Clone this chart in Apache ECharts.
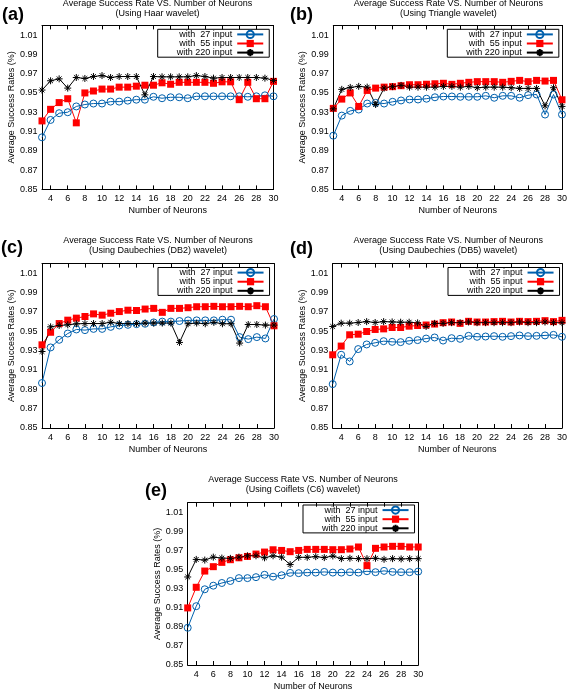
<!DOCTYPE html>
<html><head><meta charset="utf-8">
<script src="https://cdn.jsdelivr.net/npm/echarts@6/dist/echarts.min.js"></script>
<style>html,body{margin:0;padding:0;background:#fff}#c{width:570px;height:692px}</style>
</head><body><div id="c"></div>
<script>
// ---------- data ----------
const neurons = ['3','4','5','6','7','8','9','10','11','12','13','14','15','16','17','18','19','20','21','22','23','24','25','26','27','28','29','30'];
const yTickLabels = ['0.85','0.87','0.89','0.91','0.93','0.95','0.97','0.99','1.01'];
const seriesNames = ['with  27 input', 'with  55 input', 'with 220 input'];
const panelLetters = ['(a)', '(b)', '(c)', '(d)', '(e)'];
const titleLine1 = 'Average Success Rate VS. Number of Neurons';
const titleLine2 = ['(Using Haar wavelet)', '(Using Triangle wavelet)', '(Using Daubechies (DB2) wavelet)', '(Using Daubechies (DB5) wavelet)', '(Using Coiflets (C6) wavelet)'];
const xAxisName = 'Number of Neurons';
const yAxisName = 'Average Success Rates (%)';

const haar27  = [0.904,0.922,0.929,0.930,0.936,0.938,0.939,0.939,0.941,0.941,0.942,0.943,0.943,0.946,0.9445,0.9455,0.9455,0.9445,0.9465,0.9465,0.9465,0.9465,0.9465,0.9465,0.946,0.9465,0.9475,0.9465];
const haar55  = [0.921,0.933,0.940,0.944,0.919,0.950,0.952,0.954,0.954,0.956,0.956,0.957,0.958,0.958,0.9605,0.959,0.961,0.961,0.961,0.961,0.960,0.9615,0.9615,0.943,0.961,0.944,0.944,0.962];
const haar220 = [0.953,0.9626,0.9646,0.955,0.966,0.965,0.967,0.968,0.966,0.967,0.967,0.967,0.948,0.967,0.9667,0.9667,0.9667,0.9667,0.968,0.967,0.9653,0.966,0.966,0.966,0.966,0.966,0.9653,0.963];

const tri27  = [0.9057,0.9265,0.9314,0.9328,0.939,0.9397,0.939,0.9408,0.9422,0.9432,0.9432,0.944,0.9455,0.9463,0.9463,0.946,0.946,0.946,0.947,0.945,0.947,0.947,0.945,0.9477,0.9484,0.9276,0.9484,0.9276];
const tri55  = [0.934,0.9436,0.950,0.936,0.9526,0.955,0.956,0.9565,0.9575,0.9585,0.9585,0.959,0.9595,0.960,0.9589,0.960,0.961,0.9617,0.9617,0.9617,0.961,0.962,0.963,0.9617,0.963,0.9623,0.963,0.9429];
const tri220 = [0.9335,0.9537,0.9557,0.9568,0.956,0.938,0.955,0.9565,0.9578,0.956,0.956,0.956,0.956,0.9568,0.9568,0.956,0.9568,0.9554,0.956,0.956,0.956,0.9554,0.9547,0.9547,0.9547,0.9366,0.9554,0.936];

const db2_27  = [0.8965,0.9333,0.9412,0.9477,0.9519,0.9512,0.9525,0.9525,0.9546,0.956,0.9567,0.9574,0.9578,0.9592,0.960,0.960,0.9606,0.9613,0.9613,0.9613,0.9613,0.962,0.962,0.944,0.9419,0.944,0.9426,0.9627];
const db2_55  = [0.936,0.949,0.958,0.9615,0.9636,0.9653,0.968,0.9667,0.9687,0.9704,0.9718,0.9715,0.973,0.9737,0.9696,0.9737,0.9737,0.9744,0.9754,0.9754,0.9758,0.9754,0.9754,0.9758,0.9754,0.9765,0.9754,0.9557];
const db2_220 = [0.9291,0.9546,0.956,0.9567,0.9577,0.958,0.958,0.958,0.9594,0.958,0.958,0.958,0.9585,0.9585,0.9585,0.9585,0.9385,0.9578,0.9585,0.9578,0.9592,0.9578,0.9578,0.9378,0.957,0.957,0.9564,0.9564];

const db5_27  = [0.8954,0.9257,0.9188,0.9316,0.9364,0.9381,0.9398,0.9391,0.9388,0.9402,0.9409,0.9425,0.9436,0.9404,0.9429,0.9422,0.9453,0.9443,0.9446,0.945,0.9443,0.945,0.9457,0.945,0.9453,0.9457,0.9463,0.9443];
const db5_55  = [0.9257,0.9347,0.9464,0.947,0.9498,0.9519,0.9525,0.9539,0.9539,0.9553,0.956,0.9565,0.9575,0.9589,0.9596,0.9582,0.9603,0.9596,0.9596,0.96,0.9603,0.9596,0.9603,0.96,0.9603,0.961,0.96,0.9613];
const db5_220 = [0.955,0.9584,0.9584,0.9591,0.96,0.9591,0.96,0.9597,0.9594,0.9594,0.9587,0.955,0.9582,0.9582,0.9589,0.9589,0.9596,0.9589,0.9589,0.9589,0.9589,0.9589,0.9596,0.9589,0.9589,0.9596,0.9589,0.9589];

const coif27  = [0.889,0.9116,0.9293,0.9331,0.9359,0.938,0.941,0.941,0.942,0.9445,0.9425,0.944,0.9465,0.9462,0.9468,0.9468,0.9475,0.9468,0.9468,0.9472,0.9468,0.9482,0.9472,0.9486,0.9475,0.9472,0.9472,0.9479];
const coif55  = [0.9098,0.9314,0.9484,0.953,0.9575,0.9603,0.9623,0.9637,0.9662,0.9683,0.9707,0.970,0.9687,0.970,0.9711,0.9711,0.9711,0.9708,0.9708,0.9715,0.9736,0.9541,0.9722,0.9736,0.9743,0.9743,0.9736,0.9736];
const coif220 = [0.9422,0.9606,0.9599,0.963,0.962,0.9617,0.963,0.9644,0.9644,0.9623,0.9644,0.963,0.9552,0.9628,0.9628,0.9635,0.9625,0.9642,0.9614,0.9618,0.9614,0.9614,0.9618,0.9607,0.9614,0.9611,0.9614,0.9614];

const panelData = [
  [haar27, haar55, haar220],
  [tri27, tri55, tri220],
  [db2_27, db2_55, db2_220],
  [db5_27, db5_55, db5_220],
  [coif27, coif55, coif220]
];

// ---------- layout / style ----------
const FONT = '"Liberation Sans", Arial, Helvetica, sans-serif';
const Y_MIN = 0.85, Y_MAX = 1.02, Y_STEP = 0.02;
const layout = [
  {left: 42,    top: 25.4,  width: 231.5, height: 164,   letter: [2, 15.5],   title: [157.5, 3.5], legend: [157.7, 29.3]},
  {left: 333.3, top: 25.4,  width: 230.2, height: 164,   letter: [290, 15.5], title: [448.4, 3.5], legend: [447.3, 29.3]},
  {left: 42,    top: 263.6, width: 232,   height: 164.4, letter: [1, 248],    title: [158, 240.8], legend: [158, 267.5]},
  {left: 332.7, top: 263.6, width: 231.3, height: 164.4, letter: [290, 249],  title: [448.3, 240.8], legend: [448, 267.5]},
  {left: 187.7, top: 502.7, width: 230.5, height: 163.3, letter: [145, 491.5], title: [303, 479.8], legend: [303, 505]}
];
const colors = ['#0060ad', '#ff0000', '#000000'];
const starPath = 'path://M0,5L10,5M5,0L5,10M1.6,1.6L8.4,8.4M8.4,1.6L1.6,8.4';

const grids = [], xAxes = [], yAxes = [], series = [], legends = [], graphics = [];
const evenOnly = (idx, val) => Number(val) % 2 === 0;

layout.forEach((L, i) => {
  grids.push({left: L.left, top: L.top, width: L.width, height: L.height, containLabel: false});
  const lineAxis = {show: true, lineStyle: {color: '#000', width: 1}};
  xAxes.push({
    type: 'category', gridIndex: i, data: neurons, boundaryGap: false, position: 'bottom',
    axisLine: lineAxis,
    axisTick: {inside: true, length: 4, interval: evenOnly, lineStyle: {color: '#000'}},
    axisLabel: {interval: evenOnly, margin: 5, fontSize: 9, fontFamily: FONT, color: '#000'},
    splitLine: {show: false},
    name: xAxisName, nameLocation: 'middle', nameGap: 17,
    nameTextStyle: {fontSize: 9, fontFamily: FONT, color: '#000', padding: [0, 0, 0, 20]}
  });
  xAxes.push({
    type: 'category', gridIndex: i, data: neurons, boundaryGap: false, position: 'top',
    axisLine: lineAxis,
    axisTick: {inside: true, length: 4, interval: evenOnly, lineStyle: {color: '#000'}},
    axisLabel: {show: false}, splitLine: {show: false}
  });
  yAxes.push({
    type: 'value', gridIndex: i, min: Y_MIN, max: Y_MAX, interval: Y_STEP, position: 'left',
    axisLine: lineAxis,
    axisTick: {inside: true, length: 4, lineStyle: {color: '#000'}},
    axisLabel: {margin: 4.5, fontSize: 9, fontFamily: FONT, color: '#000',
      formatter: v => { const s = v.toFixed(2); return yTickLabels.indexOf(s) >= 0 ? s : ''; }},
    splitLine: {show: false},
    name: yAxisName, nameLocation: 'middle', nameGap: 26,
    nameTextStyle: {fontSize: 9, fontFamily: FONT, color: '#000'}
  });
  yAxes.push({
    type: 'value', gridIndex: i, min: Y_MIN, max: Y_MAX, interval: Y_STEP, position: 'right',
    axisLine: lineAxis,
    axisTick: {inside: true, length: 4, lineStyle: {color: '#000'}},
    axisLabel: {show: false}, splitLine: {show: false}
  });

  const styles = [
    {symbol: 'circle', symbolSize: 7, itemStyle: {color: 'rgba(0,0,0,0)', borderColor: colors[0], borderWidth: 1}},
    {symbol: 'rect', symbolSize: 7, itemStyle: {color: colors[1], borderColor: colors[1], borderWidth: 0}},
    {symbol: starPath, symbolSize: 7, itemStyle: {color: 'rgba(0,0,0,0)', borderColor: colors[2], borderWidth: 1}}
  ];
  panelData[i].forEach((arr, k) => {
    series.push(Object.assign({
      type: 'line', name: seriesNames[k], xAxisIndex: 2 * i, yAxisIndex: 2 * i,
      data: arr, clip: false, showAllSymbol: true,
      lineStyle: {color: colors[k], width: 1},
      emphasis: {disabled: true}
    }, styles[k]));
  });

  legends.push({
    orient: 'vertical', align: 'right', left: L.legend[0], top: L.legend[1],
    itemWidth: 26, itemHeight: 9, itemGap: 0,
    padding: [0.5, 5, 0, 19], borderColor: '#000', borderWidth: 1,
    selectedMode: false, data: seriesNames,
    textStyle: {fontSize: 9, fontFamily: FONT, color: '#000', lineHeight: 8}
  });

  graphics.push({type: 'text', x: L.letter[0], y: L.letter[1],
    style: {text: panelLetters[i], font: 'bold 18px ' + FONT, fill: '#000', align: 'left', verticalAlign: 'middle', textAlign: 'left', textVerticalAlign: 'middle'}});
  graphics.push({type: 'text', x: L.title[0], y: L.title[1],
    style: {text: titleLine1, font: '9px ' + FONT, fill: '#000', align: 'center', verticalAlign: 'middle', textAlign: 'center', textVerticalAlign: 'middle'}});
  graphics.push({type: 'text', x: L.title[0], y: L.title[1] + 10,
    style: {text: titleLine2[i], font: '9px ' + FONT, fill: '#000', align: 'center', verticalAlign: 'middle', textAlign: 'center', textVerticalAlign: 'middle'}});
});

const chart = echarts.init(document.getElementById('c'), null, {renderer: 'canvas'});
chart.setOption({
  animation: false,
  backgroundColor: '#fff',
  grid: grids, xAxis: xAxes, yAxis: yAxes, series: series, legend: legends,
  graphic: graphics
});
</script></body></html>
